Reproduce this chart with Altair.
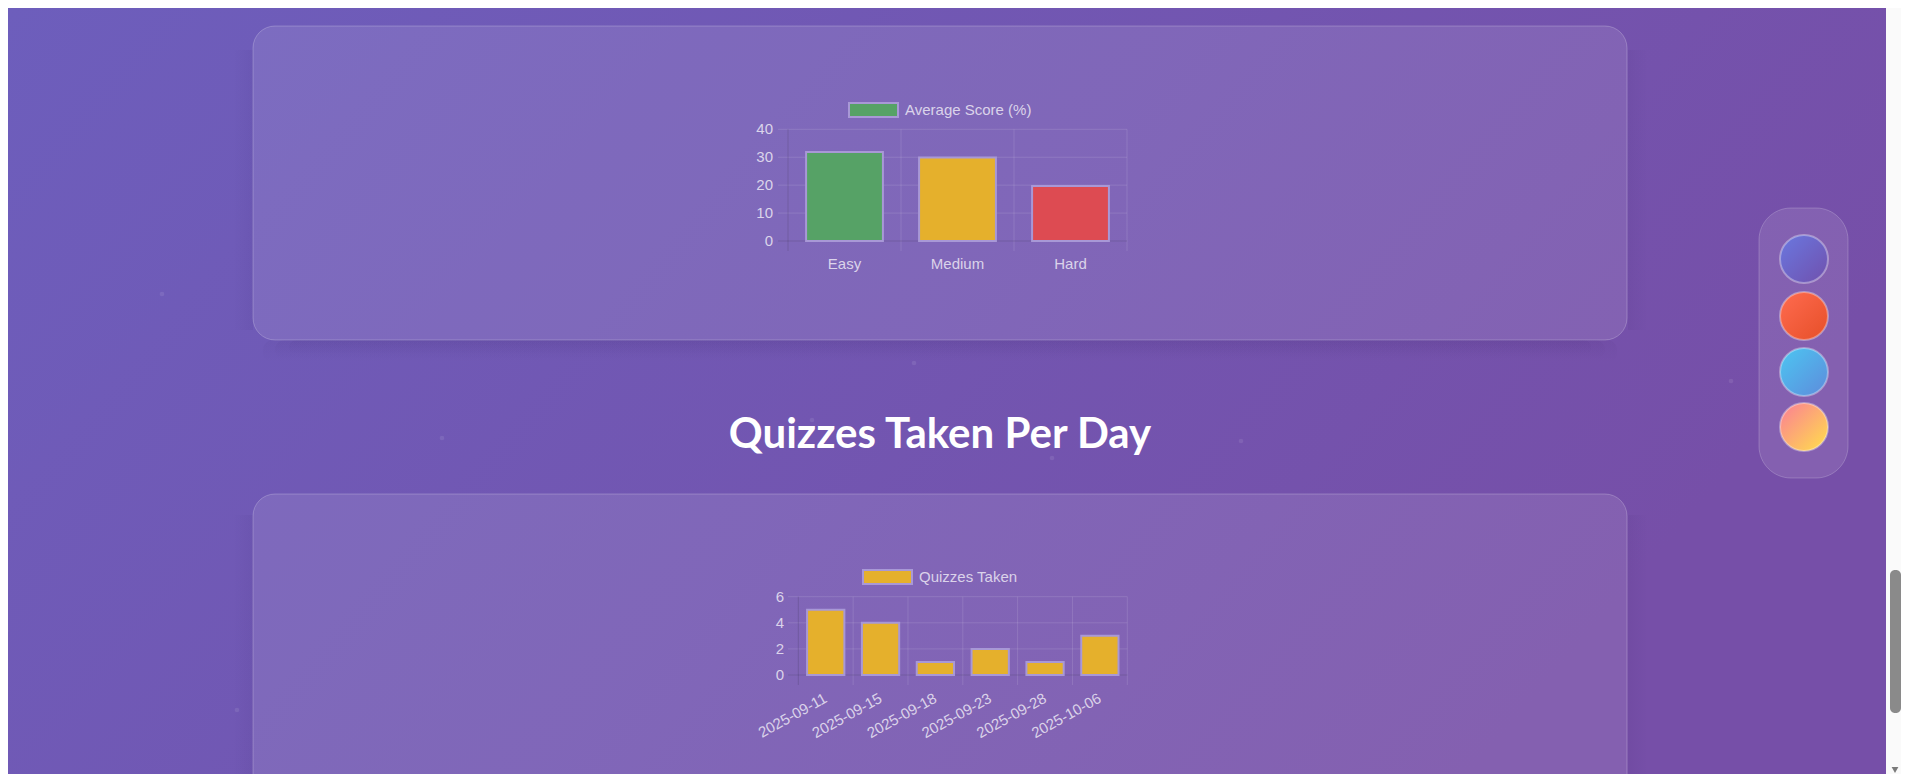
import altair as alt
import pandas as pd

# ---------------- data ----------------
difficulty = ["Easy", "Medium", "Hard"]
avg_score = [31.9, 29.9, 19.7]
difficulty_colors = ["#56a266", "#e5b02c", "#dd4b52"]
score_ticks = [0, 10, 20, 30, 40]
score_legend = "Average Score (%)"

quiz_dates = ["2025-09-11", "2025-09-15", "2025-09-18", "2025-09-23", "2025-09-28", "2025-10-06"]
quiz_counts = [5, 4, 1, 2, 1, 3]
quiz_colors = ["#e5b02c"] * 6
count_ticks = [0, 2, 4, 6]
count_legend = "Quizzes Taken"

section_title = "Quizzes Taken Per Day"

# decorative particles (page px)
dot_x = [162, 914, 442, 1241, 1052, 812, 1731, 6, 237, 2]
dot_y = [294, 363, 438, 441, 458, 420, 381, 631, 710, 741]

# ---------------- styling ----------------
W, H = 1893, 766
LABEL = "rgba(255,255,255,0.72)"
GRID = "rgba(255,255,255,0.12)"
AXIS = "rgba(40,20,90,0.30)"
BORDER = "#a898d6"
FONT = "Liberation Sans"


def P(v):
    return v - 8


one = pd.DataFrame({"_": [0]})


def rect(x1, x2, y1, y2, **kw):
    return alt.Chart(one).mark_rect(**kw).encode(
        x=alt.value(P(x1)), x2=alt.value(P(x2)), y=alt.value(P(y1)), y2=alt.value(P(y2))
    )


def text(s, x, y, **kw):
    return alt.Chart(one).mark_text(text=s, **kw).encode(x=alt.value(P(x)), y=alt.value(P(y)))


def grad(c1, c2, x2=1, y2=1):
    return alt.LinearGradient(
        gradient="linear",
        stops=[alt.GradientStop(color=c1, offset=0), alt.GradientStop(color=c2, offset=1)],
        x1=0, y1=0, x2=x2, y2=y2,
    )


def bar_panel(cats, vals, colors, ticks, ymax, left, right, top, base, grid_left,
              tick_bottom, ylab_x, xlab_y, rotated, box, legend_label, legend_color):
    df = pd.DataFrame({"cat": cats, "val": vals, "color": colors})
    tdf = pd.DataFrame({"t": ticks})
    xs = alt.Scale(domain=cats, range=[P(left), P(right)], paddingInner=0, paddingOuter=0)
    ys = alt.Scale(domain=[0, ymax], range=[P(base), P(top)], nice=False, zero=True)
    X = alt.X("cat:N", scale=xs, axis=None, sort=cats)
    X0 = alt.X("cat:N", scale=xs, axis=None, sort=cats, bandPosition=0)
    X1 = alt.X("cat:N", scale=xs, axis=None, sort=cats, bandPosition=1)
    Y = alt.Y("t:Q", scale=ys, axis=None)
    L = []
    L.append(alt.Chart(tdf).mark_rule(color=GRID, strokeWidth=1).encode(
        y=Y, x=alt.value(P(grid_left)), x2=alt.value(P(right))))
    L.append(alt.Chart(df).mark_rule(color=GRID, strokeWidth=1).encode(
        x=X0, y=alt.value(P(top)), y2=alt.value(P(tick_bottom))))
    L.append(alt.Chart(df.tail(1)).mark_rule(color=GRID, strokeWidth=1).encode(
        x=X1, y=alt.value(P(top)), y2=alt.value(P(tick_bottom))))
    L.append(alt.Chart(df.head(1)).mark_rule(color=AXIS, strokeWidth=1).encode(
        x=X0, y=alt.value(P(top)), y2=alt.value(P(tick_bottom))))
    L.append(alt.Chart(tdf.head(1)).mark_rule(color=AXIS, strokeWidth=1).encode(
        y=Y, x=alt.value(P(grid_left)), x2=alt.value(P(right))))
    L.append(alt.Chart(df).mark_bar(width=alt.RelativeBandSize(0.68), stroke=BORDER, strokeWidth=2).encode(
        x=X, y=alt.Y("val:Q", scale=ys, axis=None), color=alt.Color("color:N", scale=None)))
    L.append(alt.Chart(tdf).mark_text(align="right", baseline="middle", font=FONT, fontSize=15, color=LABEL).encode(
        y=Y, x=alt.value(P(ylab_x)), text="t:Q"))
    if rotated:
        L.append(alt.Chart(df).mark_text(align="right", baseline="middle", angle=331, font=FONT,
                                         fontSize=15, color=LABEL).encode(
            x=X, y=alt.value(P(xlab_y)), text="cat:N"))
    else:
        L.append(alt.Chart(df).mark_text(align="center", baseline="middle", font=FONT,
                                         fontSize=15, color=LABEL).encode(
            x=X, y=alt.value(P(xlab_y)), text="cat:N"))
    bx1, bx2, by1, by2 = box
    L.append(rect(bx1, bx2, by1, by2, fill=legend_color, stroke=BORDER, strokeWidth=2))
    L.append(text(legend_label, bx2 + 7, (by1 + by2) / 2, align="left", baseline="middle",
                  font=FONT, fontSize=15, color=LABEL))
    return L


layers = []
# page background gradient
layers.append(rect(8, 8 + W, 8, 8 + H, fill=grad("#6d5ebc", "#764fa8", 1, 0.35)))
# particles
dots = pd.DataFrame({"x": [P(v) for v in dot_x], "y": [P(v) for v in dot_y]})
layers.append(alt.Chart(dots).mark_circle(size=22, color="white", opacity=0.09).encode(
    x=alt.X("x:Q", scale=None), y=alt.Y("y:Q", scale=None)))

# soft card shadows (outside the cards only)
SH0 = "rgba(30,10,70,0)"
for inset, op in [(10, 0.04), (22, 0.04), (36, 0.04)]:
    layers.append(rect(253 + inset, 1627 - inset, 340, 366 - inset * 0.3,
                       fill=grad("rgba(30,10,70,%.2f)" % op, SH0, 0, 1), cornerRadius=10))
layers.append(rect(1628, 1648, 50, 330, fill=grad("rgba(30,10,70,0.05)", SH0, 1, 0)))
layers.append(rect(233, 253, 50, 330, fill=grad(SH0, "rgba(30,10,70,0.05)", 1, 0)))
layers.append(rect(1628, 1648, 515, 782, fill=grad("rgba(30,10,70,0.05)", SH0, 1, 0)))
layers.append(rect(233, 253, 515, 782, fill=grad(SH0, "rgba(30,10,70,0.05)", 1, 0)))

# cards
layers.append(rect(253, 1627, 26, 340, fill="rgba(255,255,255,0.1)", stroke="rgba(255,255,255,0.22)",
                   strokeWidth=1, cornerRadius=22))
layers.append(rect(253, 1627, 494, 830, fill="rgba(255,255,255,0.1)", stroke="rgba(255,255,255,0.22)",
                   strokeWidth=1, cornerRadius=22))

# top chart
layers += bar_panel(difficulty, avg_score, difficulty_colors, score_ticks, 40,
                    788, 1127, 129.3, 241, 778, 251, 773, 264, False,
                    (849, 898, 103, 117), score_legend, difficulty_colors[0])

# section title
layers.append(text(section_title, 940, 448, align="center", baseline="alphabetic",
                   font="Lato", fontSize=42, fontWeight="bold", color="white"))

# bottom chart
layers += bar_panel(quiz_dates, quiz_counts, quiz_colors, count_ticks, 6,
                    798.3, 1127.3, 596.7, 675, 788, 685, 784, 697, True,
                    (863, 912, 570, 584), count_legend, quiz_colors[0])

# right theme panel
layers.append(rect(1759, 1848, 208, 478, fill="rgba(255,255,255,0.1)", stroke="rgba(255,255,255,0.2)",
                   strokeWidth=1, cornerRadius=32))
theme_grads = [("#6a78e0", "#7050ad"), ("#ff6b50", "#e64f28"), ("#4cc6f2", "#5e8bdb"), ("#fb7d96", "#ffe04a")]
for (c1, c2), cy in zip(theme_grads, [259, 316, 372, 427]):
    layers.append(alt.Chart(one).mark_point(shape="circle", filled=True, size=2300, fill=grad(c1, c2),
                                            stroke="rgba(255,255,255,0.35)", strokeWidth=2, opacity=1).encode(
        x=alt.value(P(1804)), y=alt.value(P(cy))))

# browser scrollbar
layers.append(rect(1886, 1901, 8, 774, fill="#fafafa"))
layers.append(rect(1890, 1901, 570, 713, fill="#8a8a8a", cornerRadius=5))
layers.append(alt.Chart(one).mark_point(shape="triangle-down", filled=True, size=45, color="#7a7a7a", opacity=1).encode(
    x=alt.value(P(1895)), y=alt.value(P(770))))

chart = alt.layer(*layers).resolve_scale(x="independent", y="independent").properties(
    width=W, height=H, padding=0, autosize=alt.AutoSizeParams(type="none")
).configure_view(stroke=None)

chart.save("out.html", embed_options={"renderer": "svg", "actions": False})
